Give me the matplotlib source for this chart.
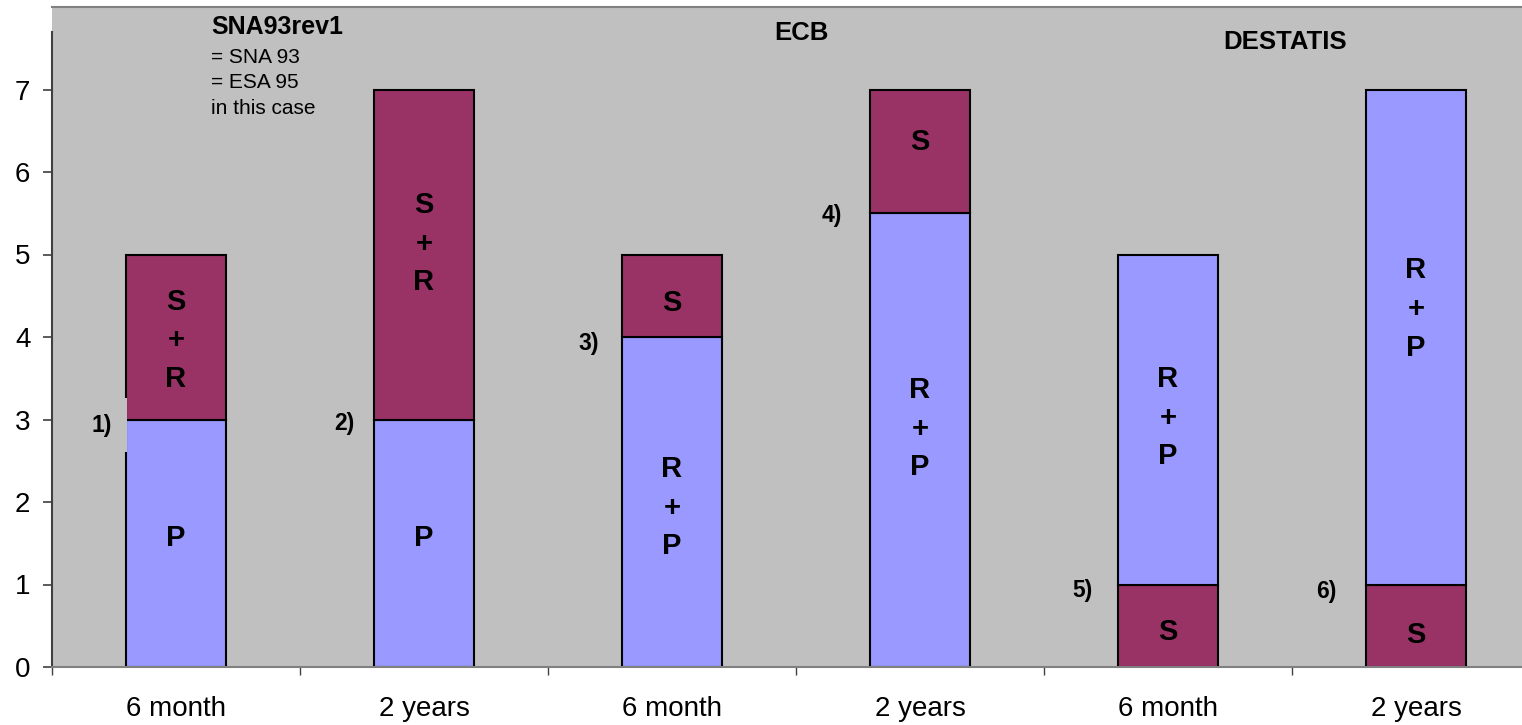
import numpy as np
import matplotlib
matplotlib.use('Agg')
import matplotlib.pyplot as plt

plt.rcParams['font.family'] = ['Liberation Sans', 'DejaVu Sans']

# categories and stacked values
categories = ['6 month', '2 years', '6 month', '2 years', '6 month', '2 years']
bottom_vals = [3, 3, 4, 5.5, 1, 1]
top_vals = [2, 4, 1, 1.5, 4, 6]
bottom_names = ['P', 'P', 'R\n+\nP', 'R\n+\nP', 'S', 'S']
top_names = ['S\n+\nR', 'S\n+\nR', 'S', 'S', 'R\n+\nP', 'R\n+\nP']
notes = ['1)', '2)', '3)', '4)', '5)', '6)']

LAV = '#9999FF'
MAR = '#993366'
bottom_colors = [LAV, LAV, LAV, LAV, MAR, MAR]
top_colors = [MAR, MAR, MAR, MAR, LAV, LAV]

# label placements (data coords)
bottom_label_y = [1.56, 1.56, 1.93, 2.89, 0.42, 0.39]
top_label_y = [3.96, 5.13, 4.41, 6.36, 3.02, 4.34]
note_xy = [(-0.30, 2.93), (0.68, 2.955), (1.665, 3.92), (2.645, 5.47), (3.657, 0.93), (4.637, 0.91)]

fig = plt.figure(figsize=(15.22, 7.25), dpi=100)
ax = fig.add_axes([52/1522, 58/725, 1488/1522, 660/725])
ax.set_facecolor('#C0C0C0')

x = np.arange(len(categories))
ax.bar(x, bottom_vals, width=0.4, color=bottom_colors, edgecolor='black', linewidth=1.5, zorder=2)
ax.bar(x, top_vals, width=0.4, bottom=bottom_vals, color=top_colors, edgecolor='black', linewidth=1.5, zorder=2)

for i in range(len(categories)):
    ax.text(x[i], bottom_label_y[i], bottom_names[i], ha='center', va='center',
            fontsize=21, fontweight='bold', linespacing=1.48, zorder=3)
    ax.text(x[i], top_label_y[i], top_names[i], ha='center', va='center',
            fontsize=21, fontweight='bold', linespacing=1.48, zorder=3)

for i, (nx, ny) in enumerate(note_xy):
    bb = None
    if i == 0:
        # grey box behind the first note, it overlaps the bar edge a little
        bb = dict(facecolor='#C0C0C0', edgecolor='none', pad=11)
    ax.text(nx, ny, notes[i], ha='center', va='center', fontsize=16.5,
            fontweight='bold', bbox=bb, zorder=4)

ax.text(0.141, 7.76, 'SNA93rev1', ha='left', va='center', fontsize=18, fontweight='bold')
ax.text(0.141, 7.08, '= SNA 93\n= ESA 95\nin this case', ha='left', va='center',
        fontsize=15, linespacing=1.42)
ax.text(2.52, 7.68, 'ECB', ha='center', va='center', fontsize=18.5, fontweight='bold')
ax.text(4.472, 7.57, 'DESTATIS', ha='center', va='center', fontsize=18.5, fontweight='bold')

ax.set_xlim(-0.5, 5.5)
ax.set_ylim(0, 8)
ax.set_yticks(range(8))
ax.set_xticks(x)
ax.set_xticklabels(categories)
ax.set_xticks(np.arange(-0.5, 6, 1), minor=True)

ax.tick_params(axis='y', length=6.5, width=1.2, color='#404040', pad=9, labelsize=20)
ax.tick_params(axis='x', which='major', length=0, pad=21, labelsize=20)
ax.tick_params(axis='x', which='minor', length=6, width=1, color='#404040')

ax.spines['right'].set_visible(False)
ax.spines['top'].set_color('#808080')
ax.spines['top'].set_linewidth(1.5)
ax.spines['bottom'].set_color('#808080')
ax.spines['bottom'].set_linewidth(1.5)
ax.spines['left'].set_color('#404040')
ax.spines['left'].set_linewidth(1.5)
ax.spines['left'].set_bounds(0, 7.7)

fig.savefig('out.png', dpi=100, facecolor='white')
